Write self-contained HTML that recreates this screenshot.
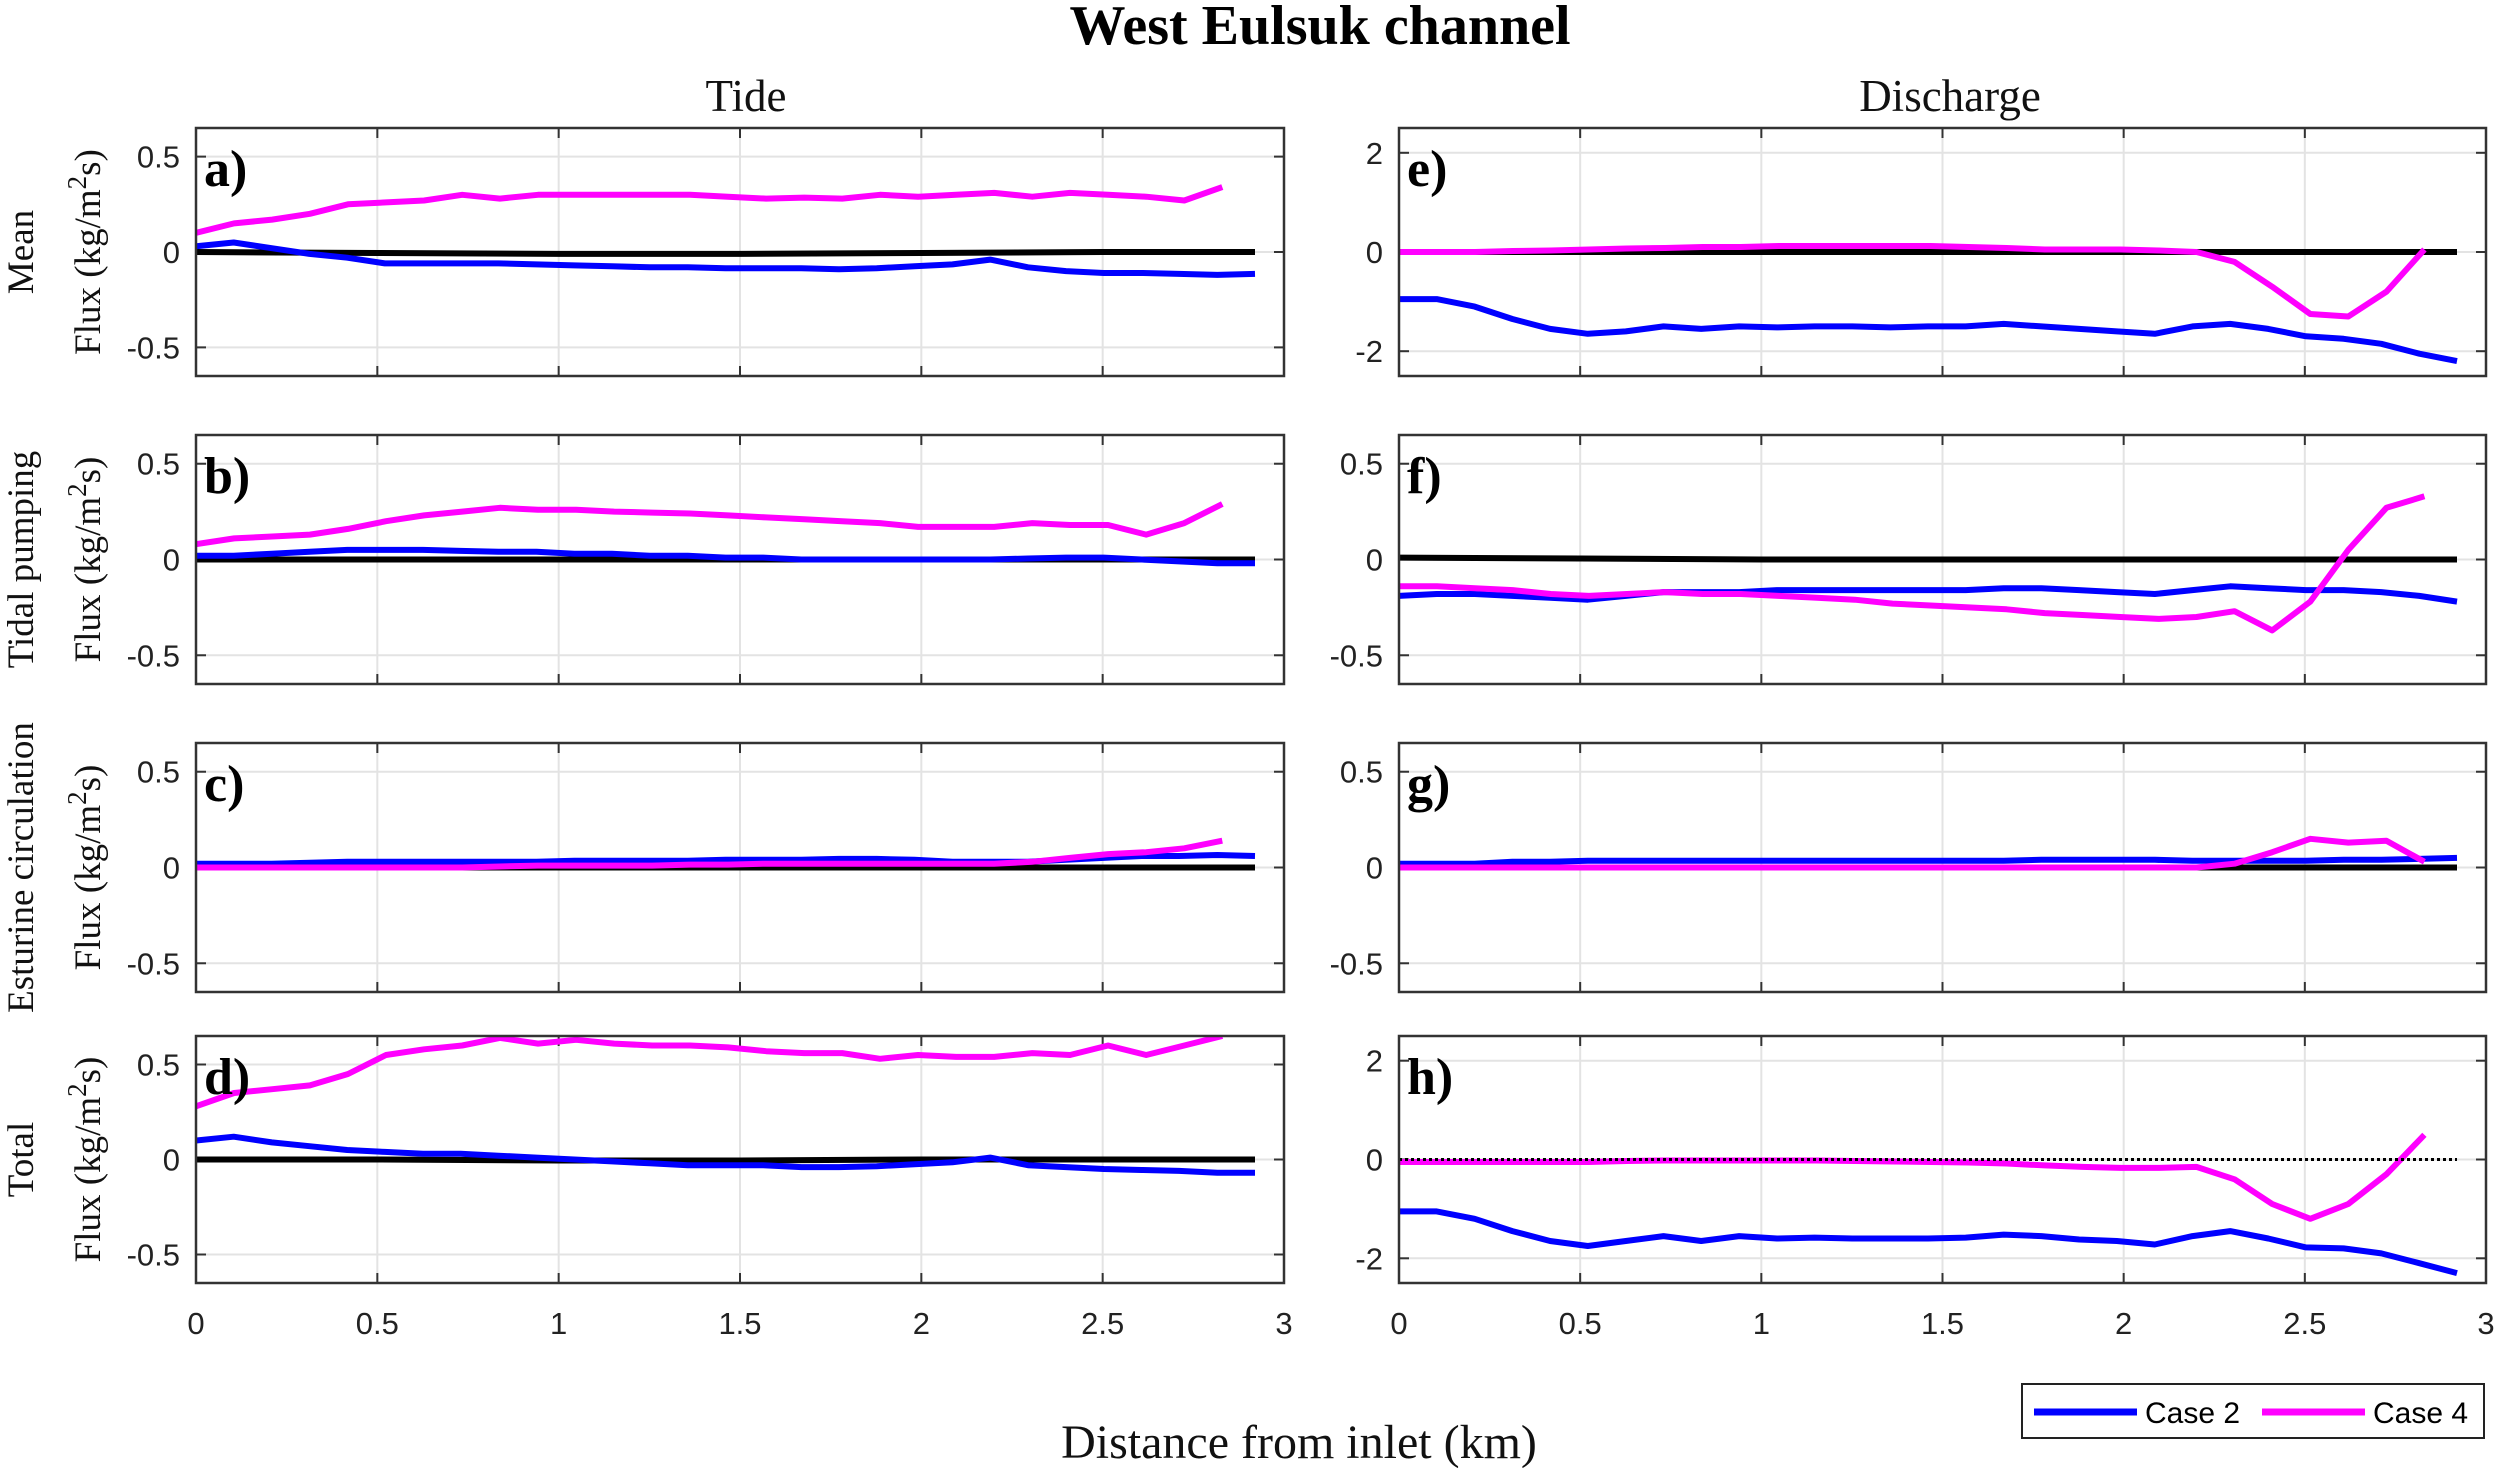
<!DOCTYPE html>
<html><head><meta charset="utf-8">
<style>
html,body{margin:0;padding:0;background:#fff;}
svg{display:block;}
.tick{font-family:"Liberation Sans",sans-serif;font-size:31px;fill:#222;}
.lab{font-family:"Liberation Serif",serif;font-size:37px;fill:#111;}
.let{font-family:"Liberation Serif",serif;font-size:52px;font-weight:bold;fill:#000;}
</style></head>
<body>
<svg id="fig" width="2500" height="1476" viewBox="0 0 2500 1476">
<text x="1320" y="44" text-anchor="middle" font-family="Liberation Serif, serif" font-size="56" font-weight="bold">West Eulsuk channel</text>
<text x="746" y="111" text-anchor="middle" class="lab" style="font-size:45px">Tide</text>
<text x="1950" y="111" text-anchor="middle" class="lab" style="font-size:45px">Discharge</text>
<text x="1299" y="1458" text-anchor="middle" class="lab" style="font-size:48px">Distance from inlet (km)</text>
<g>
<rect x="2022" y="1384" width="462" height="54" fill="#fff" stroke="#222" stroke-width="2"/>
<line x1="2034" y1="1412" x2="2137" y2="1412" stroke="#0000ff" stroke-width="7"/>
<text x="2145" y="1423" font-family="Liberation Sans, sans-serif" font-size="30">Case 2</text>
<line x1="2262" y1="1412" x2="2365" y2="1412" stroke="#ff00ff" stroke-width="7"/>
<text x="2373" y="1423" font-family="Liberation Sans, sans-serif" font-size="30">Case 4</text>
</g>
</svg>
<script>
const xBlue=[0,0.104,0.209,0.313,0.417,0.521,0.626,0.73,0.834,0.939,1.043,1.147,1.251,1.356,1.46,1.564,1.669,1.773,1.877,1.981,2.086,2.19,2.294,2.399,2.503,2.607,2.711,2.816,2.92];
const xMag=[0,0.105,0.21,0.314,0.419,0.524,0.629,0.734,0.838,0.943,1.048,1.153,1.258,1.362,1.467,1.572,1.677,1.782,1.886,1.991,2.096,2.201,2.306,2.41,2.515,2.62,2.725,2.83];
const xBlack=[0,0.5,1,1.5,2,2.5,2.92];
const blueA=[0.03,0.05,0.02,-0.01,-0.03,-0.06,-0.06,-0.06,-0.06,-0.065,-0.07,-0.075,-0.08,-0.08,-0.085,-0.085,-0.085,-0.09,-0.085,-0.075,-0.065,-0.04,-0.08,-0.1,-0.11,-0.11,-0.115,-0.12,-0.115];
const magA=[0.1,0.15,0.17,0.2,0.25,0.26,0.27,0.3,0.28,0.3,0.3,0.3,0.3,0.3,0.29,0.28,0.285,0.28,0.3,0.29,0.3,0.31,0.29,0.31,0.3,0.29,0.27,0.34];
const blackA=[0,-0.005,-0.01,-0.01,-0.005,0,0];
const blueB=[0.02,0.02,0.03,0.04,0.05,0.05,0.05,0.045,0.04,0.04,0.03,0.03,0.02,0.02,0.01,0.01,0,0,0,0,0,0,0.005,0.01,0.01,0,-0.01,-0.02,-0.02];
const magB=[0.08,0.11,0.12,0.13,0.16,0.2,0.23,0.25,0.27,0.26,0.26,0.25,0.245,0.24,0.23,0.22,0.21,0.2,0.19,0.17,0.17,0.17,0.19,0.18,0.18,0.13,0.19,0.29];
const blackB=[0,0,0,0,0,0,0];
const blueC=[0.02,0.02,0.02,0.025,0.03,0.03,0.03,0.03,0.03,0.03,0.035,0.035,0.035,0.035,0.04,0.04,0.04,0.045,0.045,0.04,0.03,0.03,0.03,0.04,0.05,0.06,0.06,0.065,0.06];
const magC=[0,0,0,0,0,0,0,0,0.005,0.01,0.01,0.01,0.01,0.015,0.015,0.02,0.02,0.02,0.02,0.02,0.02,0.02,0.03,0.05,0.07,0.08,0.1,0.14];
const blackC=[0,0,0,0,0,0,0];
const blueD=[0.1,0.12,0.09,0.07,0.05,0.04,0.03,0.03,0.02,0.01,0,-0.01,-0.02,-0.03,-0.03,-0.03,-0.04,-0.04,-0.035,-0.025,-0.015,0.01,-0.03,-0.04,-0.05,-0.055,-0.06,-0.07,-0.07];
const magD=[0.28,0.35,0.37,0.39,0.45,0.55,0.58,0.6,0.64,0.61,0.63,0.61,0.6,0.6,0.59,0.57,0.56,0.56,0.53,0.55,0.54,0.54,0.56,0.55,0.6,0.55,0.6,0.65];
const blackD=[0,0,-0.005,-0.005,0,0,0];
const blueE=[-0.95,-0.95,-1.1,-1.35,-1.55,-1.65,-1.6,-1.5,-1.55,-1.5,-1.52,-1.5,-1.5,-1.52,-1.5,-1.5,-1.45,-1.5,-1.55,-1.6,-1.65,-1.5,-1.45,-1.55,-1.7,-1.75,-1.85,-2.05,-2.2];
const magE=[0,0,0,0.02,0.03,0.05,0.07,0.08,0.1,0.1,0.12,0.12,0.12,0.12,0.12,0.1,0.08,0.05,0.05,0.05,0.03,0,-0.2,-0.7,-1.25,-1.3,-0.8,0.05];
const blackE=[0,0,0,0,0,0,0];
const blueF=[-0.19,-0.18,-0.18,-0.19,-0.2,-0.21,-0.19,-0.17,-0.17,-0.17,-0.16,-0.16,-0.16,-0.16,-0.16,-0.16,-0.15,-0.15,-0.16,-0.17,-0.18,-0.16,-0.14,-0.15,-0.16,-0.16,-0.17,-0.19,-0.22];
const magF=[-0.14,-0.14,-0.15,-0.16,-0.18,-0.19,-0.18,-0.17,-0.18,-0.18,-0.19,-0.2,-0.21,-0.23,-0.24,-0.25,-0.26,-0.28,-0.29,-0.3,-0.31,-0.3,-0.27,-0.37,-0.22,0.05,0.27,0.33];
const blackF=[0.01,0.005,0,0,0,0,0];
const blueG=[0.02,0.02,0.02,0.03,0.03,0.035,0.035,0.035,0.035,0.035,0.035,0.035,0.035,0.035,0.035,0.035,0.035,0.04,0.04,0.04,0.04,0.035,0.035,0.035,0.035,0.04,0.04,0.045,0.05];
const magG=[0,0,0,0,0,0,0,0,0,0,0,0,0,0,0,0,0,0,0,0,0,0,0.02,0.08,0.15,0.13,0.14,0.03];
const blackG=[0,0,0,0,0,0,0];
const blueH=[-1.05,-1.05,-1.2,-1.45,-1.65,-1.75,-1.65,-1.55,-1.65,-1.55,-1.6,-1.58,-1.6,-1.6,-1.6,-1.58,-1.52,-1.55,-1.62,-1.65,-1.72,-1.55,-1.45,-1.6,-1.78,-1.8,-1.9,-2.1,-2.3];
const magH=[-0.05,-0.05,-0.05,-0.05,-0.05,-0.05,-0.03,-0.02,-0.02,-0.02,-0.02,-0.02,-0.03,-0.04,-0.05,-0.06,-0.08,-0.12,-0.15,-0.17,-0.17,-0.15,-0.4,-0.9,-1.2,-0.9,-0.3,0.5];
const blackH=[0,0,0,0,0,0,0];
const xTicks=[0,0.5,1,1.5,2,2.5,3];
const xTickLabels=["0","0.5","1","1.5","2","2.5","3"];
const smallTicks=[-0.5,0,0.5];const smallLabels=["-0.5","0","0.5"];
const bigTicks=[-2,0,2];const bigLabels=["-2","0","2"];

const NS="http://www.w3.org/2000/svg";
const svg=document.getElementById('fig');
function mk(t,a,parent){const e=document.createElementNS(NS,t);for(const k in a)e.setAttribute(k,a[k]);(parent||svg).appendChild(e);return e;}
const cols=[[196,1284],[1399,2486]];
const rows=[[128,376],[435,684],[743,992],[1036,1283]];
const panels=[
 {id:'a',c:0,r:0,big:false,b:blueA,m:magA,k:blackA},
 {id:'b',c:0,r:1,big:false,b:blueB,m:magB,k:blackB},
 {id:'c',c:0,r:2,big:false,b:blueC,m:magC,k:blackC},
 {id:'d',c:0,r:3,big:false,b:blueD,m:magD,k:blackD},
 {id:'e',c:1,r:0,big:true,b:blueE,m:magE,k:blackE},
 {id:'f',c:1,r:1,big:false,b:blueF,m:magF,k:blackF},
 {id:'g',c:1,r:2,big:false,b:blueG,m:magG,k:blackG},
 {id:'h',c:1,r:3,big:true,b:blueH,m:magH,k:blackH,dot:true}];
const rowLabels=["Mean","Tidal pumping","Esturine circulation","Total"];
panels.forEach(p=>{
 const [x0,x1]=cols[p.c],[y0,y1]=rows[p.r];
 const lim=p.big?2.5:0.65;
 const X=v=>x0+(v/3)*(x1-x0);
 const Y=v=>y0+(lim-v)/(2*lim)*(y1-y0);
 const g=mk('g',{});
 
 
 const clip=mk('clipPath',{id:'cl'+p.id},g);mk('rect',{x:x0,y:y0,width:x1-x0,height:y1-y0},clip);
 const yt=p.big?bigTicks:smallTicks, yl=p.big?bigLabels:smallLabels;
 xTicks.forEach((t,i)=>{
  const gl=mk('line',{x1:X(t),x2:X(t),y1:y0,y2:y1,stroke:'#e3e3e3','stroke-width':2},g);
  
  
  mk('line',{x1:X(t),x2:X(t),y1:y1,y2:y1-10,stroke:'#333','stroke-width':2},g);
  mk('line',{x1:X(t),x2:X(t),y1:y0,y2:y0+10,stroke:'#333','stroke-width':2},g);
  if(p.r===3){const tx=mk('text',{x:X(t),y:1334,'text-anchor':'middle',class:'tick'},g);tx.textContent=xTickLabels[i];
   
   }
 });
 yt.forEach((t,i)=>{
  const gl=mk('line',{x1:x0,x2:x1,y1:Y(t),y2:Y(t),stroke:'#e3e3e3','stroke-width':2},g);
  
  
  mk('line',{x1:x0,x2:x0+10,y1:Y(t),y2:Y(t),stroke:'#333','stroke-width':2},g);
  mk('line',{x1:x1,x2:x1-10,y1:Y(t),y2:Y(t),stroke:'#333','stroke-width':2},g);
  const tx=mk('text',{x:x0-16,y:Y(t)+11,'text-anchor':'end',class:'tick'},g);tx.textContent=yl[i];
  
  
 });
 const lines=mk('g',{'clip-path':'url(#cl'+p.id+')'},g);
 const pts=(xs,ys)=>ys.map((v,i)=>X(xs[i]).toFixed(1)+','+Y(v).toFixed(1)).join(' ');
 const kl=mk('polyline',{points:pts(xBlack,p.k),fill:'none',stroke:'#000','stroke-width':p.dot?3:6,'stroke-dasharray':p.dot?'3 3':'none'},lines);
 
 
 const bl=mk('polyline',{points:pts(xBlue,p.b),fill:'none',stroke:'#0000ff','stroke-width':6,'stroke-linejoin':'round'},lines);
 
 
 const ml=mk('polyline',{points:pts(xMag,p.m),fill:'none',stroke:'#ff00ff','stroke-width':6,'stroke-linejoin':'round'},lines);
 
 
 if(p.dot){const z=mk('line',{x1:X(0),x2:X(2.83),y1:Y(0),y2:Y(0),stroke:'#000','stroke-width':3,'stroke-dasharray':'3 3'},lines);
  
  }
 mk('rect',{x:x0,y:y0,width:x1-x0,height:y1-y0,fill:'none',stroke:'#333','stroke-width':2.5},g);
 const lt=mk('text',{x:x0+8,y:y0+58,class:'let'},g);lt.textContent=p.id+')';
 
 
 if(p.c===0){
  const cy=(y0+y1)/2;
  const t1=mk('text',{x:0,y:0,'text-anchor':'middle',class:'lab',transform:`translate(33,${cy}) rotate(-90)`},g);t1.textContent=rowLabels[p.r];
  
  
  const t2=mk('text',{x:0,y:0,'text-anchor':'middle',class:'lab',transform:`translate(100,${cy}) rotate(-90)`},g);
  t2.innerHTML='Flux (kg/m<tspan dy="-14" font-size="27">2</tspan><tspan dy="14">s)</tspan>';
  
  
 }
});
</script>
</body></html>
